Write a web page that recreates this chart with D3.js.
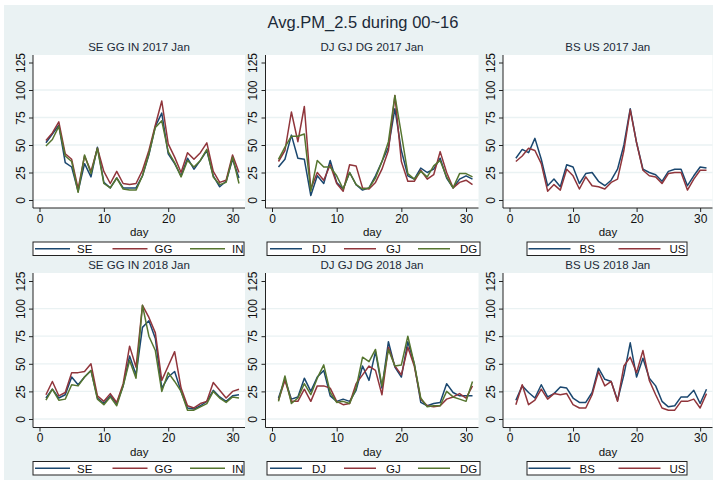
<!DOCTYPE html>
<html>
<head>
<meta charset="utf-8">
<script src="https://cdn.jsdelivr.net/npm/d3@7"></script>
<style>
  body { margin: 0; background: #fff; }
  text { font-family: Arial, "Liberation Sans", sans-serif; }
</style>
</head>
<body>
<svg id="chart" width="717" height="484"></svg>
<script>
// day of month (x axis)
const days = [1, 2, 3, 4, 5, 6, 7, 8, 9, 10, 11, 12, 13, 14, 15, 16,
  17, 18, 19, 20, 21, 22, 23, 24, 25, 26, 27, 28, 29, 30, 31];

// 2017 Jan
const se2017 = [52, 60, 68, 34, 30, 8, 33, 21, 48, 16, 11, 20, 11, 11, 11, 22, 41, 67, 79, 42, 33, 22, 38, 28, 36, 45, 22, 12, 17, 37, 20];
const gg2017 = [54, 61, 71, 42, 37, 10, 40, 26, 47, 26, 15, 26, 15, 14, 15, 27, 45, 68, 90, 51, 39, 25, 43, 37, 43, 52, 26, 16, 18, 41, 25];
const in2017 = [49, 55, 67, 40, 35, 7, 41, 24, 47, 15, 11, 20, 10, 9, 9, 22, 42, 66, 72, 44, 34, 21, 36, 30, 36, 46, 21, 14, 16, 39, 15];
const dj2017 = [30, 37, 59, 38, 37, 4, 22, 15, 36, 16, 10, 25, 14, 9, 11, 22, 35, 48, 83, 45, 22, 19, 29, 25, 28, 38, 20, 11, 19, 22, 19];
const gj2017 = [35, 45, 80, 53, 85, 10, 25, 18, 32, 15, 8, 32, 31, 11, 10, 16, 28, 45, 95, 35, 17, 17, 27, 19, 23, 44, 25, 11, 16, 18, 14];
const dg2017 = [37, 48, 58, 58, 60, 8, 36, 30, 30, 22, 10, 25, 14, 10, 11, 20, 35, 53, 95, 60, 24, 19, 26, 21, 31, 36, 21, 11, 24, 24, 21];
const bs2017 = [38, 46, 43, 56, 37, 13, 19, 12, 32, 30, 15, 24, 25, 17, 13, 18, 28, 50, 83, 52, 28, 25, 23, 17, 26, 28, 28, 13, 22, 30, 29];
const us2017 = [35, 40, 47, 45, 33, 8, 14, 9, 28, 22, 10, 21, 13, 12, 10, 16, 19, 45, 82, 52, 27, 22, 21, 15, 24, 25, 25, 9, 19, 27, 27];

// 2018 Jan
const se2018 = [19, 27, 19, 22, 38, 31, 38, 44, 19, 14, 21, 14, 30, 57, 40, 83, 89, 73, 28, 38, 43, 25, 10, 9, 12, 16, 26, 20, 16, 21, 22];
const gg2018 = [22, 34, 21, 24, 42, 42, 43, 50, 21, 16, 23, 15, 32, 66, 47, 103, 92, 78, 35, 48, 61, 28, 12, 10, 14, 16, 33, 26, 19, 25, 27];
const in2018 = [17, 27, 17, 18, 31, 30, 38, 44, 18, 13, 20, 12, 30, 53, 37, 103, 75, 62, 25, 42, 34, 25, 8, 8, 11, 14, 25, 19, 15, 20, 19];
const dj2018 = [19, 36, 18, 20, 37, 25, 38, 44, 21, 16, 18, 16, 26, 48, 35, 61, 28, 70, 47, 38, 70, 50, 15, 12, 14, 15, 32, 24, 21, 21, 21];
const gj2018 = [17, 35, 16, 16, 27, 16, 30, 30, 28, 16, 13, 14, 32, 40, 48, 44, 22, 65, 48, 40, 65, 48, 18, 12, 11, 12, 18, 20, 23, 19, 30];
const dg2018 = [16, 39, 14, 19, 32, 22, 37, 49, 24, 15, 16, 14, 28, 56, 52, 63, 30, 63, 48, 49, 75, 50, 19, 11, 12, 12, 25, 20, 18, 16, 34];
const bs2018 = [17, 30, 24, 19, 31, 20, 23, 29, 28, 19, 15, 15, 24, 46, 36, 34, 17, 40, 69, 38, 55, 37, 30, 16, 11, 12, 20, 20, 26, 14, 27];
const us2018 = [13, 31, 13, 17, 27, 18, 23, 22, 23, 13, 10, 10, 22, 43, 30, 34, 16, 48, 56, 42, 62, 35, 22, 10, 8, 8, 16, 16, 18, 10, 23];

const yTicks = [0, 25, 50, 75, 100, 125];
const yGrid = [0, 25, 50, 75, 100];
const xTicks = [0, 10, 20, 30];

const navy = '#1a476f', maroon = '#90353b', green = '#55752f';

const panels = [
  {title: 'SE GG IN 2017 Jan', row: 0, col: 0, series: [['SE', se2017, navy], ['GG', gg2017, maroon], ['IN', in2017, green]]},
  {title: 'DJ GJ DG 2017 Jan', row: 0, col: 1, series: [['DJ', dj2017, navy], ['GJ', gj2017, maroon], ['DG', dg2017, green]]},
  {title: 'BS US 2017 Jan',    row: 0, col: 2, series: [['BS', bs2017, navy], ['US', us2017, maroon]]},
  {title: 'SE GG IN 2018 Jan', row: 1, col: 0, series: [['SE', se2018, navy], ['GG', gg2018, maroon], ['IN', in2018, green]]},
  {title: 'DJ GJ DG 2018 Jan', row: 1, col: 1, series: [['DJ', dj2018, navy], ['GJ', gj2018, maroon], ['DG', dg2018, green]]},
  {title: 'BS US 2018 Jan',    row: 1, col: 2, series: [['BS', bs2018, navy], ['US', us2018, maroon]]}
];

// layout (pixels)
const cols = [
  {left: 33, right: 245, legend: {x0: 33, x1: 244, first: 35, key: 35, step: 77.5, text: 42}},
  {left: 265.5, right: 478.5, legend: {x0: 267, x1: 480, first: 270, key: 32, step: 74, text: 42}},
  {left: 503, right: 712.5, legend: {x0: 527, x1: 687, first: 528.5, key: 42, step: 90, text: 51}}
];
const rows = [
  {top: 55, bottom: 208, y0: 200, y125: 62.5},
  {top: 273, bottom: 427.5, y0: 419, y125: 281}
];

const svg = d3.select('#chart');

svg.append('rect')
  .attr('x', 4).attr('y', 5)
  .attr('width', 709).attr('height', 475)
  .attr('fill', '#eaf2f3');

svg.append('text')
  .attr('x', 363).attr('y', 28)
  .attr('text-anchor', 'middle')
  .attr('font-size', 16.5)
  .attr('fill', '#1c2a38')
  .text('Avg.PM_2.5 during 00~16');

panels.forEach(p => {
  const c = cols[p.col], r = rows[p.row];
  const g = svg.append('g');

  const x = d3.scaleLinear().domain([0, 31]).range([c.left + 6.5, c.right - 6]);
  const y = d3.scaleLinear().domain([0, 125]).range([r.y0, r.y125]);

  // subtitle
  g.append('text')
    .attr('x', (c.left + c.right) / 2).attr('y', r.top - 4)
    .attr('text-anchor', 'middle')
    .attr('font-size', 11.5)
    .attr('fill', '#1c2a38')
    .text(p.title);

  // plot region
  g.append('rect')
    .attr('x', c.left).attr('y', r.top)
    .attr('width', c.right - c.left).attr('height', r.bottom - r.top)
    .attr('fill', '#fff');

  g.selectAll('line.grid')
    .data(yGrid)
    .join('line')
    .attr('class', 'grid')
    .attr('x1', c.left).attr('x2', c.right)
    .attr('y1', d => y(d)).attr('y2', d => y(d))
    .attr('stroke', '#eaf2f3')
    .attr('stroke-width', 1.3);

  // y axis
  const yAxis = d3.axisLeft(y).tickValues(yTicks).tickSize(4).tickSizeOuter(0).tickFormat(d3.format('d'));
  const ya = g.append('g')
    .attr('transform', `translate(${c.left},0)`)
    .call(yAxis);
  ya.select('.domain').remove();
  ya.selectAll('line').attr('stroke', '#222');
  ya.selectAll('text')
    .attr('font-size', 12)
    .attr('fill', '#111')
    .attr('text-anchor', 'middle')
    .attr('x', null).attr('dy', null)
    .attr('transform', 'translate(-8.5,0) rotate(-90)');
  g.append('line')
    .attr('x1', c.left).attr('x2', c.left)
    .attr('y1', r.top).attr('y2', r.bottom)
    .attr('stroke', '#222');

  // x axis
  const xAxis = d3.axisBottom(x).tickValues(xTicks).tickSize(4).tickSizeOuter(0);
  const xa = g.append('g')
    .attr('transform', `translate(0,${r.bottom})`)
    .call(xAxis);
  xa.select('.domain').remove();
  xa.selectAll('line').attr('stroke', '#222');
  xa.selectAll('text')
    .attr('font-size', 12)
    .attr('fill', '#111')
    .attr('y', 14.5).attr('dy', null);
  g.append('line')
    .attr('x1', c.left).attr('x2', c.right)
    .attr('y1', r.bottom).attr('y2', r.bottom)
    .attr('stroke', '#222');

  g.append('text')
    .attr('x', x(15.5)).attr('y', r.bottom + 28)
    .attr('text-anchor', 'middle')
    .attr('font-size', 11.5)
    .attr('fill', '#111')
    .text('day');

  // series
  const line = d3.line().x((d, i) => x(days[i])).y(d => y(d));
  p.series.forEach(s => {
    g.append('path')
      .datum(s[1])
      .attr('d', line)
      .attr('fill', 'none')
      .attr('stroke', s[2])
      .attr('stroke-width', 1.5)
      .attr('stroke-linejoin', 'round');
  });

  // legend below each panel
  const legY = r.bottom + 34;
  const lg = c.legend;
  const leg = g.append('g');
  leg.append('rect')
    .attr('x', lg.x0).attr('y', legY)
    .attr('width', lg.x1 - lg.x0).attr('height', 13.5)
    .attr('fill', '#fff')
    .attr('stroke', '#222')
    .attr('stroke-width', 1);
  p.series.forEach((s, i) => {
    const sx = lg.first + i * lg.step;
    leg.append('line')
      .attr('x1', sx).attr('x2', sx + lg.key)
      .attr('y1', legY + 6.75).attr('y2', legY + 6.75)
      .attr('stroke', s[2])
      .attr('stroke-width', 1.5);
    leg.append('text')
      .attr('x', sx + lg.text).attr('y', legY + 11)
      .attr('font-size', 11.5)
      .attr('fill', '#111')
      .text(s[0]);
  });
});
</script>
</body>
</html>
